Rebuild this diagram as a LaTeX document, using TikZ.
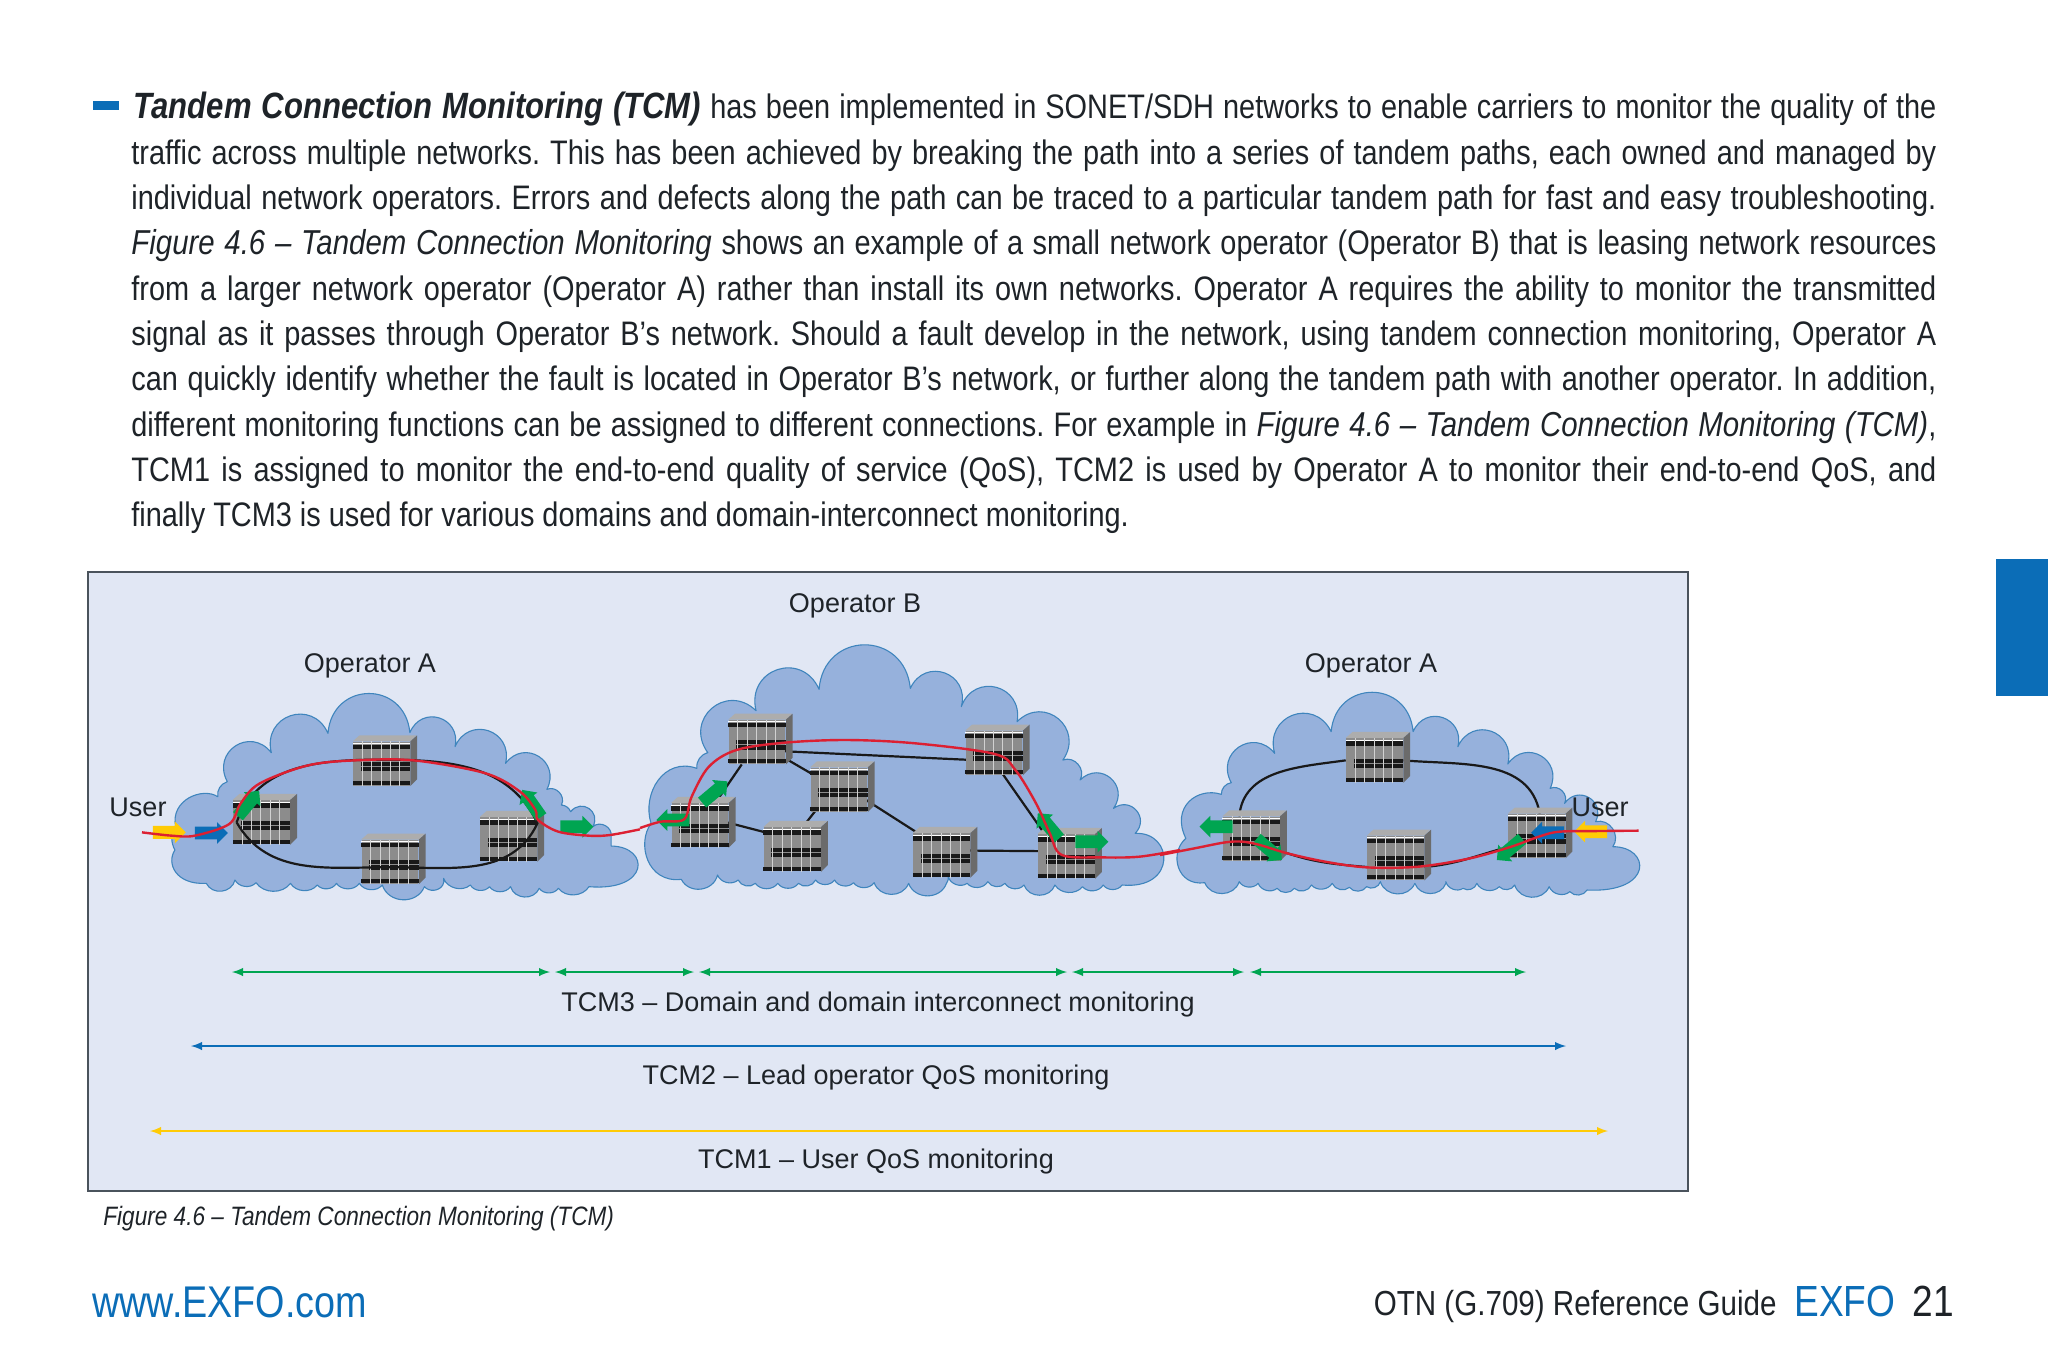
\documentclass[tikz,border=0pt]{standalone}
\usepackage{fontspec}
\setmainfont{Liberation Sans}[FakeStretch=0.85]
\newfontfamily\labelfont{Liberation Sans}
\usetikzlibrary{shapes.arrows, arrows}
\definecolor{panelblue}{HTML}{E1E7F4}
\definecolor{panelline}{HTML}{4A535C}
\definecolor{cloudfill}{HTML}{96B1DC}
\definecolor{cloudline}{HTML}{3F85BD}
\definecolor{exfoblue}{HTML}{0B6DB7}
\definecolor{tcmgreen}{HTML}{00A551}
\definecolor{tcmyellow}{HTML}{FFCB05}
\definecolor{tcmred}{HTML}{DC2032}
\definecolor{textdark}{HTML}{1E2328}
\pgfdeclarelayer{behind}
\pgfsetlayers{behind,main}
\tikzset{
	zoneleft/.style={x=0.19135pt,y=-0.16667pt,shift={(40pt,-285pt)}},
	zonemid/.style={x=0.17218pt,y=-0.16667pt,shift={(320pt,-295pt)}},
	zoneright/.style={x=0.17218pt,y=-0.16667pt,shift={(580pt,-320pt)}},
	cloud/.style={fill=cloudfill,draw=cloudline,line width=0.55pt,line join=round},
	lobe/.style={bend left=85,looseness=1.65},
	midlobe/.style={bend left=70,looseness=1.2},
	scallop/.style={bend left=55,looseness=1},
	server/.style={rectangle,minimum width=28.4pt,minimum height=22pt,inner sep=0pt,fill=black!45},
	link/.style={black!90,line width=1.1pt},
	redpath/.style={tcmred,line width=1.2pt},
	blockarrow/.style={single arrow,minimum height=16.5pt,inner xsep=0pt,inner ysep=3pt,single arrow head extend=2.25pt,single arrow head indent=0pt},
	greenarrow/.style={blockarrow,fill=tcmgreen},
	bluearrow/.style={blockarrow,fill=exfoblue},
	yellowarrow/.style={blockarrow,fill=tcmyellow},
	span/.style={<->,>=latex,line width=0.9pt},
	panellabel/.style={font=\labelfont\fontsize{13.5pt}{16pt}\selectfont,text=textdark,inner sep=0pt},
}
\newcommand{\serverbox}[2]{
	\node[server] (#1) at (#2) {};
	\fill[black!32] (#1.north west) -- ++(3.4pt,3pt) -- ++(28.4pt,0pt) -- (#1.north east) -- cycle;
	\fill[black!58] (#1.north east) -- ++(3.4pt,3pt) -- ++(0pt,-22pt) -- (#1.south east) -- cycle;
	\fill[white] ([yshift=-0.8pt]#1.north west) rectangle ([yshift=-1.3pt]#1.north east);
	\fill[black!90] ([yshift=-1.7pt]#1.north west) rectangle ([yshift=-3.8pt]#1.north east);
	\fill[black!90] ([xshift=4pt,yshift=-10.3pt]#1.north west) rectangle ([yshift=-12.4pt]#1.north east);
	\fill[black!90] ([xshift=4pt,yshift=-12.9pt]#1.north west) rectangle ([yshift=-15pt]#1.north east);
	\fill[black!90] ([yshift=-19.8pt]#1.north west) rectangle ([yshift=-21.8pt]#1.north east);
	\foreach \k in {1,...,5}
		\draw[black!18,line width=0.35pt] ([xshift=\k*4.7pt]#1.north west) -- ([xshift=\k*4.7pt]#1.south west);
}
\newcommand{\figtitle}[1]{{\fontsize{17.3pt}{22.65pt}\selectfont\itshape #1}}
\begin{document}
\begin{tikzpicture}[x=0.5pt,y=-0.5pt]
	\useasboundingbox (0,0) rectangle (2048,1365);
	\fill[exfoblue] (1996,559) rectangle (2048,696);
	\fill[exfoblue] (93,101) rectangle (119,110);
	\node[anchor=north west,inner sep=0pt,text width=902.5pt,align=justify,text=textdark,font=\fontsize{17pt}{22.65pt}\selectfont] (body) at (131,92) {\tolerance=9999\hyphenpenalty=10000\frenchspacing \hspace*{1.2pt}{\fontsize{18.3pt}{22.65pt}\selectfont\bfseries\itshape Tandem Connection Monitoring (TCM)} has been implemented in SONET/SDH networks to enable carriers to monitor the quality of the\linebreak
	traffic across multiple networks. This has been achieved by breaking the path into a series of tandem paths, each owned and managed by\linebreak
	individual network operators. Errors and defects along the path can be traced to a particular tandem path for fast and easy troubleshooting.\linebreak
	\figtitle{Figure 4.6 -- Tandem Connection Monitoring} shows an example of a small network operator (Operator B) that is leasing network resources\linebreak
	from a larger network operator (Operator A) rather than install its own networks. Operator A requires the ability to monitor the transmitted\linebreak
	signal as it passes through Operator B's network. Should a fault develop in the network, using tandem connection monitoring, Operator A\linebreak
	can quickly identify whether the fault is located in Operator B's network, or further along the tandem path with another operator. In addition,\linebreak
	different monitoring functions can be assigned to different connections. For example in \figtitle{Figure 4.6 -- Tandem Connection Monitoring (TCM)},\linebreak
	TCM1 is assigned to monitor the end-to-end quality of service (QoS), TCM2 is used by Operator A to monitor their end-to-end QoS, and\linebreak
	finally TCM3 is used for various domains and domain-interconnect monitoring.};
	\begin{pgfonlayer}{behind}
		\filldraw[fill=panelblue,draw=panelline,line width=0.6pt] (88,572) rectangle (1688,1191);
	\end{pgfonlayer}
	\node[panellabel] (opbtitle) at (855,606) {Operator B};
	\node[panellabel] (opatitle) at (370,666) {Operator A};
	\node[panellabel] (opctitle) at (1371,666) {Operator A};

	\begin{scope}[zoneleft]
		\begin{pgfonlayer}{behind}
			\filldraw[cloud] (248,840) to[bend left=30] (250,770) .. controls (235,690) and (320,650) .. (360,680) to[bend left=40] (385,635) to[lobe] (500,548) to[lobe] (648,490) to[lobe] (862,488) to[lobe] (980,530) to[lobe] (1112,580) to[lobe] (1220,658) to[midlobe] (1258,705) to[bend left=30] (1282,725) to[lobe] (1340,770) to[midlobe] (1388,800) -- (1388,828) .. controls (1490,830) and (1490,965) .. (1330,950) to[scallop] (1250,955) to[scallop] (1200,955) to[midlobe] (1125,950) to[scallop] (1070,950) to[scallop] (1020,945) to[scallop] (950,925) to[bend left=20] (948,945) to[scallop] (900,950) to[midlobe] (790,945) to[scallop] (730,940) to[scallop] (670,940) to[scallop] (620,945) to[scallop] (550,940) to[scallop] (460,938) to[scallop] (405,930) to[midlobe] (330,940) .. controls (250,945) and (225,880) .. (248,840) -- cycle;
		\end{pgfonlayer}
		\serverbox{a1}{474,757}
		\serverbox{a2}{788,581}
		\serverbox{a3}{810,876}
		\serverbox{a4}{1120,808}
		\draw[link] ([xshift=2pt]a1.west) to[out=70,in=180] ([yshift=2pt]a2.center) to[out=0,in=115] ([yshift=8pt]a4.east) to[out=-115,in=0] ([yshift=-2.6pt]a3.center) to[out=180,in=-60] ([xshift=2pt]a1.west);
		\node[yellowarrow] (ya1) at (225,787) {};
		\node[bluearrow] (ba1) at (335,789) {};
		\node[greenarrow] (ga1) at (1290,770) {};
		\node[greenarrow,rotate=50] (ga2) at (435,708) {};
		\node[greenarrow,rotate=125] (ga3) at (1185,708) {};
		\coordinate (usera) at (162,787);
		\draw[redpath] plot[smooth,tension=0.55] coordinates {(usera) (240,797) (300,797) (390,762) (420,700) (470,640) (600,585) (740,570) (880,572) (1060,610) (1150,665) (1190,720) (1197,750) (1250,785) (1330,797) (1385,795) (1463,778)};
	\end{scope}

	\begin{scope}[zonemid]
		\begin{pgfonlayer}{behind}
			\filldraw[cloud] (32,700) .. controls (5,610) and (70,500) .. (165,535) to[bend left=40] (197,488) to[lobe] (337,362) to[lobe] (520,298) to[lobe] (785,295) to[lobe] (933,350) to[lobe] (1095,395) to[lobe] (1228,510) to[midlobe] (1278,570) to[lobe] (1375,655) to[lobe] (1438,730) .. controls (1550,725) and (1560,900) .. (1400,885) to[scallop] (1345,885) to[scallop] (1285,890) to[scallop] (1205,885) to[midlobe] (1115,885) to[scallop] (1060,880) to[scallop] (1010,875) to[scallop] (950,880) to[scallop] (895,860) to[bend left=20] (890,880) to[midlobe] (780,880) to[midlobe] (680,878) to[scallop] (620,878) to[scallop] (565,870) to[scallop] (510,870) to[scallop] (460,880) to[scallop] (400,880) to[scallop] (335,880) to[scallop] (285,870) to[scallop] (225,855) to[midlobe] (120,868) .. controls (20,880) and (-10,760) .. (32,700) -- cycle;
		\end{pgfonlayer}
		\serverbox{b1}{174,706}
		\serverbox{b2}{340,456}
		\serverbox{b3}{578,599}
		\serverbox{b4}{442,778}
		\serverbox{b5}{1028,489}
		\serverbox{b6}{876,796}
		\serverbox{b7}{1238,799}
		\begin{pgfonlayer}{behind}
			\draw[link] (b1) -- (b2);
			\draw[link] (b2) -- (b3);
			\draw[link] ([yshift=5pt]b1.center) -- ([yshift=5pt]b4.center);
			\draw[link] ([xshift=-3.5pt]b3.center) -- ([xshift=-3.5pt]b4.center);
			\draw[link] ([yshift=3.5pt]b3.center) -- ([yshift=3.5pt]b6.center);
			\draw[link] ([yshift=-4pt]b2.center) -- ([yshift=-4pt]b5.center);
			\draw[link] ([xshift=-3pt]b5.center) -- ([xshift=-3pt]b7.center);
			\draw[link] ([yshift=2.5pt]b6.center) -- ([yshift=2.5pt]b7.center);
		\end{pgfonlayer}
		\node[greenarrow,rotate=180] (gb1) at (105,690) {};
		\node[greenarrow,rotate=40] (gb2) at (210,612) {};
		\node[greenarrow,rotate=130] (gb3) at (1192,715) {};
		\node[greenarrow] (gb4) at (1303,755) {};
		\draw[redpath] plot[smooth,tension=0.55] coordinates {(0,714) (60,695) (128,688) (150,620) (200,530) (280,480) (420,458) (600,450) (800,460) (1030,492) (1090,540) (1150,640) (1190,730) (1225,795) (1340,802) (1450,800) (1568,780)};
	\end{scope}

	\begin{scope}[zoneright]
		\begin{pgfonlayer}{behind}
			\filldraw[cloud] (75,595) .. controls (30,500) and (110,440) .. (178,463) to[bend left=40] (207,428) to[lobe] (333,340) to[lobe] (497,275) to[lobe] (735,275) to[lobe] (865,320) to[lobe] (1010,372) to[lobe] (1133,445) to[midlobe] (1175,490) to[lobe] (1265,545) to[midlobe] (1315,620) .. controls (1425,620) and (1435,760) .. (1240,750) to[scallop] (1190,755) to[scallop] (1130,740) to[midlobe] (1030,735) to[scallop] (985,740) to[scallop] (920,730) to[scallop] (880,745) to[scallop] (830,725) to[bend left=20] (830,730) to[midlobe] (740,730) to[midlobe] (640,725) to[scallop] (600,740) to[scallop] (550,742) to[scallop] (500,730) to[scallop] (440,735) to[scallop] (390,745) to[scallop] (340,745) to[scallop] (285,730) to[scallop] (230,725) to[midlobe] (130,728) .. controls (50,740) and (25,640) .. (75,595) -- cycle;
		\end{pgfonlayer}
		\serverbox{c1}{265,596}
		\serverbox{c2}{623,361}
		\serverbox{c3}{684,654}
		\serverbox{c4}{1094,588}
		\begin{pgfonlayer}{behind}
			\draw[link] ([xshift=-6pt]c1.north) to[out=85,in=188] (c2.west);
			\draw[link] (c2.east) to[out=-5,in=100] ([xshift=1.5pt]c4.north);
			\draw[link] ([yshift=-6pt]c1.east) to[out=-20,in=175] ([yshift=-4.5pt]c3.west);
			\draw[link] ([yshift=-4.5pt]c3.east) to[out=5,in=195] ([yshift=-5.5pt]c4.west);
		\end{pgfonlayer}
		\node[greenarrow,rotate=180] (gc1) at (172,560) {};
		\node[greenarrow,rotate=-40] (gc2) at (310,622) {};
		\node[greenarrow,rotate=-140] (gc3) at (1022,622) {};
		\node[bluearrow,rotate=180] (bc1) at (1135,578) {};
		\node[yellowarrow,rotate=180] (yc1) at (1260,575) {};
		\coordinate (userb) at (1390,572);
		\draw[redpath] plot[smooth,tension=0.55] coordinates {(0,645) (100,625) (190,607) (240,605) (290,615) (370,640) (480,665) (600,682) (750,680) (900,655) (1020,620) (1100,590) (1160,575) (1280,573) (userb)};
	\end{scope}

	\node[panellabel] (userl) at (138,807) {User};
	\node[panellabel] (userr) at (1600,807) {User};

	\coordinate (g0) at (232,972);
	\coordinate (g1) at (550,972);
	\coordinate (g2) at (555,972);
	\coordinate (g3) at (694,972);
	\coordinate (g4) at (699,972);
	\coordinate (g5) at (1067,972);
	\coordinate (g6) at (1072,972);
	\coordinate (g7) at (1244,972);
	\coordinate (g8) at (1250,972);
	\coordinate (g9) at (1526,972);
	\coordinate (bl) at (191,1046);
	\coordinate (br) at (1566,1046);
	\coordinate (yl) at (150,1131);
	\coordinate (yr) at (1608,1131);
	\draw[span,tcmgreen] (g0) -- (g1);
	\draw[span,tcmgreen] (g2) -- (g3);
	\draw[span,tcmgreen] (g4) -- (g5);
	\draw[span,tcmgreen] (g6) -- (g7);
	\draw[span,tcmgreen] (g8) -- (g9);
	\draw[span,exfoblue] (bl) -- (br);
	\draw[span,tcmyellow] (yl) -- (yr);
	\node[panellabel] (tcmthree) at (878,1004.5) {TCM3 – Domain and domain interconnect monitoring};
	\node[panellabel] (tcmtwo) at (876,1077.5) {TCM2 – Lead operator QoS monitoring};
	\node[panellabel] (tcmone) at (876,1161.5) {TCM1 – User QoS monitoring};

	\node[anchor=west,inner sep=0pt,text=textdark,font=\fontsize{13.3pt}{15pt}\selectfont\itshape] (caption) at (103,1219) {Figure 4.6 -- Tandem Connection Monitoring (TCM)};
	\node[anchor=west,inner sep=0pt,text=exfoblue,font=\fontsize{22.2pt}{26pt}\selectfont] (website) at (92,1302) {www.EXFO.com};
	\node[anchor=east,inner sep=0pt,text=textdark,font=\fontsize{17.4pt}{21pt}\selectfont] (guide) at (1777,1306) {OTN (G.709) Reference Guide};
	\node[anchor=west,inner sep=0pt,text=exfoblue,font=\fontsize{21.8pt}{26pt}\selectfont] (brand) at (1794,1301) {EXFO};
	\node[anchor=east,inner sep=0pt,text=textdark,font=\fontsize{21.8pt}{26pt}\selectfont] (pagenum) at (1954,1301) {21};
\end{tikzpicture}
\end{document}
